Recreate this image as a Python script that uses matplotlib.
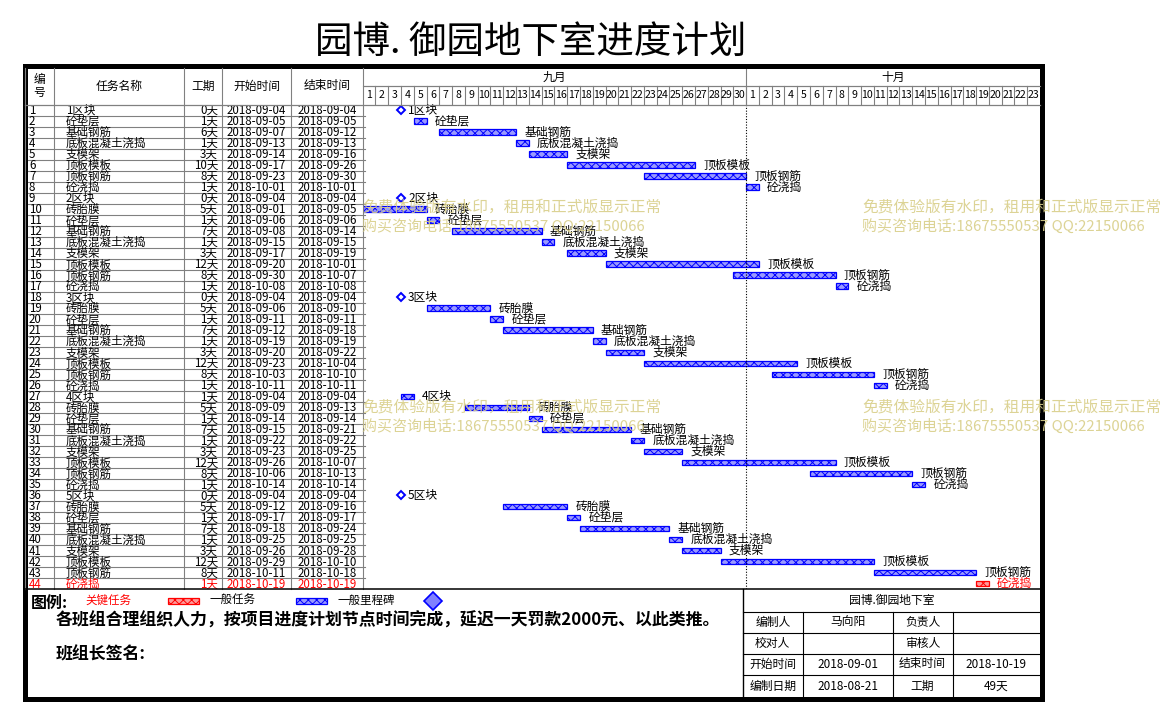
import datetime as dt
import matplotlib.pyplot as plt
from matplotlib.patches import Rectangle

plt.rcParams['font.family'] = ['Noto Sans CJK SC', 'DejaVu Sans']
plt.rcParams['hatch.linewidth'] = 0.7

# ---------------- data ----------------
title = "园博. 御园地下室进度计划"

ids = list(range(1, 45))
names = [
    "1区块", "砼垫层", "基础钢筋", "底板混凝土浇捣", "支模架", "顶板模板", "顶板钢筋", "砼浇捣",
    "2区块", "砖胎膜", "砼垫层", "基础钢筋", "底板混凝土浇捣", "支模架", "顶板模板", "顶板钢筋", "砼浇捣",
    "3区块", "砖胎膜", "砼垫层", "基础钢筋", "底板混凝土浇捣", "支模架", "顶板模板", "顶板钢筋", "砼浇捣",
    "4区块", "砖胎膜", "砼垫层", "基础钢筋", "底板混凝土浇捣", "支模架", "顶板模板", "顶板钢筋", "砼浇捣",
    "5区块", "砖胎膜", "砼垫层", "基础钢筋", "底板混凝土浇捣", "支模架", "顶板模板", "顶板钢筋", "砼浇捣",
]
durations = [
    0, 1, 6, 1, 3, 10, 8, 1,
    0, 5, 1, 7, 1, 3, 12, 8, 1,
    0, 5, 1, 7, 1, 3, 12, 8, 1,
    1, 5, 1, 7, 1, 3, 12, 8, 1,
    0, 5, 1, 7, 1, 3, 12, 8, 1,
]
starts = [
    "2018-09-04", "2018-09-05", "2018-09-07", "2018-09-13", "2018-09-14", "2018-09-17", "2018-09-23", "2018-10-01",
    "2018-09-04", "2018-09-01", "2018-09-06", "2018-09-08", "2018-09-15", "2018-09-17", "2018-09-20", "2018-09-30", "2018-10-08",
    "2018-09-04", "2018-09-06", "2018-09-11", "2018-09-12", "2018-09-19", "2018-09-20", "2018-09-23", "2018-10-03", "2018-10-11",
    "2018-09-04", "2018-09-09", "2018-09-14", "2018-09-15", "2018-09-22", "2018-09-23", "2018-09-26", "2018-10-06", "2018-10-14",
    "2018-09-04", "2018-09-12", "2018-09-17", "2018-09-18", "2018-09-25", "2018-09-26", "2018-09-29", "2018-10-11", "2018-10-19",
]
ends = [
    "2018-09-04", "2018-09-05", "2018-09-12", "2018-09-13", "2018-09-16", "2018-09-26", "2018-09-30", "2018-10-01",
    "2018-09-04", "2018-09-05", "2018-09-06", "2018-09-14", "2018-09-15", "2018-09-19", "2018-10-01", "2018-10-07", "2018-10-08",
    "2018-09-04", "2018-09-10", "2018-09-11", "2018-09-18", "2018-09-19", "2018-09-22", "2018-10-04", "2018-10-10", "2018-10-11",
    "2018-09-04", "2018-09-13", "2018-09-14", "2018-09-21", "2018-09-22", "2018-09-25", "2018-10-07", "2018-10-13", "2018-10-14",
    "2018-09-04", "2018-09-16", "2018-09-17", "2018-09-24", "2018-09-25", "2018-09-28", "2018-10-10", "2018-10-18", "2018-10-19",
]
critical_ids = [44]

months = ["九月", "十月"]
month_days = [30, 23]       # days shown per month
day0 = dt.date(2018, 9, 1)

headers = ["编\n号", "任务名称", "工期", "开始时间", "结束时间"]

legend_labels = ["关键任务", "一般任务", "一般里程碑"]
note_text = "各班组合理组织人力，按项目进度计划节点时间完成，延迟一天罚款2000元、以此类推。"
sign_text = "班组长签名:"

info_title = "园博.御园地下室"
info_rows = [
    ["编制人", "马向阳", "负责人", ""],
    ["校对人", "", "审核人", ""],
    ["开始时间", "2018-09-01", "结束时间", "2018-10-19"],
    ["编制日期", "2018-08-21", "工期", "49天"],
]

watermark = ["免费体验版有水印，租用和正式版显示正常", "购买咨询电话:18675550537 QQ:22150066"]

# ---------------- layout (pixels) ----------------
W, H = 1165, 722
col_x = [25, 54, 184, 222, 291, 362.7]
chart_x1 = 1040
head_y0, head_mid, head_y1 = 68, 86, 104.5
body_y1 = 589
bottom_y1 = 698

BLUE = "#0000ff"
RED = "#ff0000"
GRID = "#808080"


def rect(x0, y0, x1, y1):
    return [x0 / W, 1 - y1 / H, (x1 - x0) / W, (y1 - y0) / H]


def day_index(s):
    return (dt.date.fromisoformat(s) - day0).days


n_rows = len(ids)
n_days = sum(month_days)

fig = plt.figure(figsize=(W / 100, H / 100), dpi=100)

# table body
ax_tab = fig.add_axes(rect(col_x[0], head_y1, col_x[-1], body_y1))
ax_tab.set_xlim(col_x[0], col_x[-1])
ax_tab.set_ylim(n_rows, 0)
ax_tab.axis("off")
for r in range(1, n_rows):
    ax_tab.plot([col_x[0], col_x[-1] + 2.5], [r, r], color=GRID, lw=0.8, clip_on=False)
for i in range(n_rows):
    c = RED if ids[i] in critical_ids else "black"
    y = i + 0.55
    kw = dict(va="center", color=c, fontsize=8.3)
    ax_tab.text(29, y, str(ids[i]), ha="left", **kw)
    ax_tab.text(66, y, names[i], ha="left", **kw)
    ax_tab.text(218, y, f"{durations[i]}天", ha="right", **kw)
    ax_tab.text((col_x[3] + col_x[4]) / 2, y, starts[i], ha="center", **kw)
    ax_tab.text((col_x[4] + col_x[5]) / 2, y, ends[i], ha="center", **kw)

# timeline header
ax_h = fig.add_axes(rect(col_x[-1], head_y0, chart_x1, head_y1))
ax_h.set_xlim(0, n_days)
ax_h.set_ylim(2, 0)
ax_h.axis("off")
ax_h.plot([0, n_days], [1, 1], color=GRID, lw=0.8)
pos = 0
for m, nd in zip(months, month_days):
    ax_h.text(pos + nd / 2, 0.5, m, ha="center", va="center", fontsize=8.5)
    for d in range(nd):
        ax_h.text(pos + d + 0.5, 1.5, str(d + 1), ha="center", va="center", fontsize=7.6)
    pos += nd
    if pos < n_days:
        ax_h.plot([pos, pos], [0, 2], color=GRID, lw=0.8)
for d in range(1, n_days):
    ax_h.plot([d, d], [1, 2], color=GRID, lw=0.8)

# gantt
ax_g = fig.add_axes(rect(col_x[-1], head_y1, chart_x1, body_y1))
ax_g.set_xlim(0, n_days)
ax_g.set_ylim(n_rows, 0)
ax_g.axis("off")
ax_g.axvline(month_days[0], color="black", ls=(0, (1, 1.5)), lw=0.8)
for i in range(n_rows):
    y = i + 0.5
    s = day_index(starts[i])
    e = day_index(ends[i]) + 1
    crit = ids[i] in critical_ids
    col = RED if crit else BLUE
    fill = "#ff9a9a" if crit else "#9a9aff"
    if durations[i] == 0:
        ax_g.plot(s, y, marker="D", ms=4.5, mfc="white", mec=BLUE, mew=1.4)
        lx = s + 0.55
    else:
        ax_g.barh(y, e - s, left=s, height=0.5, color=fill, edgecolor=col,
                  hatch="xxxx", lw=0.9)
        lx = e + 0.65
    ax_g.text(lx, y, names[i], ha="left", va="center", fontsize=8.5,
              color=RED if crit else "black", clip_on=False)

# overlay: frame, header, footer
ax = fig.add_axes([0, 0, 1, 1])
ax.set_xlim(0, W)
ax.set_ylim(H, 0)
ax.axis("off")
ax.set_zorder(10)

ax.text(531, 42, title, ha="center", va="center", fontsize=27)

head_cx = [(col_x[k] + col_x[k + 1]) / 2 for k in range(5)]
for k, h in enumerate(headers):
    ax.text(head_cx[k], 86, h, ha="center", va="center", fontsize=8.5,
            linespacing=1.0)
for x in col_x:
    ax.plot([x, x], [head_y0, body_y1], color=GRID, lw=0.8)
ax.plot([col_x[0], chart_x1], [head_y1, head_y1], color=GRID, lw=0.9)
ax.plot([col_x[-1], chart_x1], [head_mid, head_mid], color=GRID, lw=0.8)
ax.plot([col_x[0], chart_x1], [body_y1, body_y1], color="black", lw=1.1)

# legend
ax.text(31, 603, "图例:", ha="left", va="center", fontsize=11.5, fontweight="bold")
ax.text(85, 600, legend_labels[0], ha="left", va="center", fontsize=8.3, color=RED)
ax.add_patch(Rectangle((168, 598), 31, 6, facecolor="#ff9a9a", edgecolor=RED, hatch="xxxx", lw=0.9))
ax.text(210, 600, legend_labels[1], ha="left", va="center", fontsize=8.3)
ax.add_patch(Rectangle((296, 598), 31, 6, facecolor="#9a9aff", edgecolor=BLUE, hatch="xxxx", lw=0.9))
ax.text(337, 600, legend_labels[2], ha="left", va="center", fontsize=8.3)
ax.plot(433, 601, marker="D", ms=9.5, mfc="#8080ff", mec=BLUE, mew=1.2)

ax.text(56, 621, note_text, ha="left", va="center", fontsize=12.2, fontweight="bold")
ax.text(56, 654, sign_text, ha="left", va="center", fontsize=12.2, fontweight="bold")

# info block
ix = [743, 802.5, 892.5, 952.5, chart_x1]
iy = [body_y1, 611.7, 632.5, 653.5, 674.5, bottom_y1]
ax.plot([ix[0], ix[0]], [body_y1, bottom_y1], color="black", lw=1.0)
for y in iy[1:-1]:
    ax.plot([ix[0], ix[-1]], [y, y], color="black", lw=0.8)
for x in ix[1:-1]:
    ax.plot([x, x], [iy[1], bottom_y1], color="black", lw=0.8)
ax.text((ix[0] + ix[-1]) / 2, (iy[0] + iy[1]) / 2, info_title, ha="center", va="center", fontsize=8.5)
for r, row in enumerate(info_rows):
    cy = (iy[r + 1] + iy[r + 2]) / 2
    for c, val in enumerate(row):
        ax.text((ix[c] + ix[c + 1]) / 2, cy, val, ha="center", va="center", fontsize=8.5)

# outer frame
ax.add_patch(Rectangle((24.5, 66), 1017.5, 633, fill=False, edgecolor="black", lw=3.6))

# trial watermark
for wx, wy in [(362, 207), (862, 207), (362, 407), (862, 407)]:
    ax.text(wx, wy, watermark[0], ha="left", va="center", fontsize=11.3,
            color="#d9cf8a", alpha=0.9)
    ax.text(wx, wy + 19, watermark[1], ha="left", va="center", fontsize=10.8,
            color="#d9cf8a", alpha=0.9)

fig.savefig("out.png", dpi=100, facecolor="white")
